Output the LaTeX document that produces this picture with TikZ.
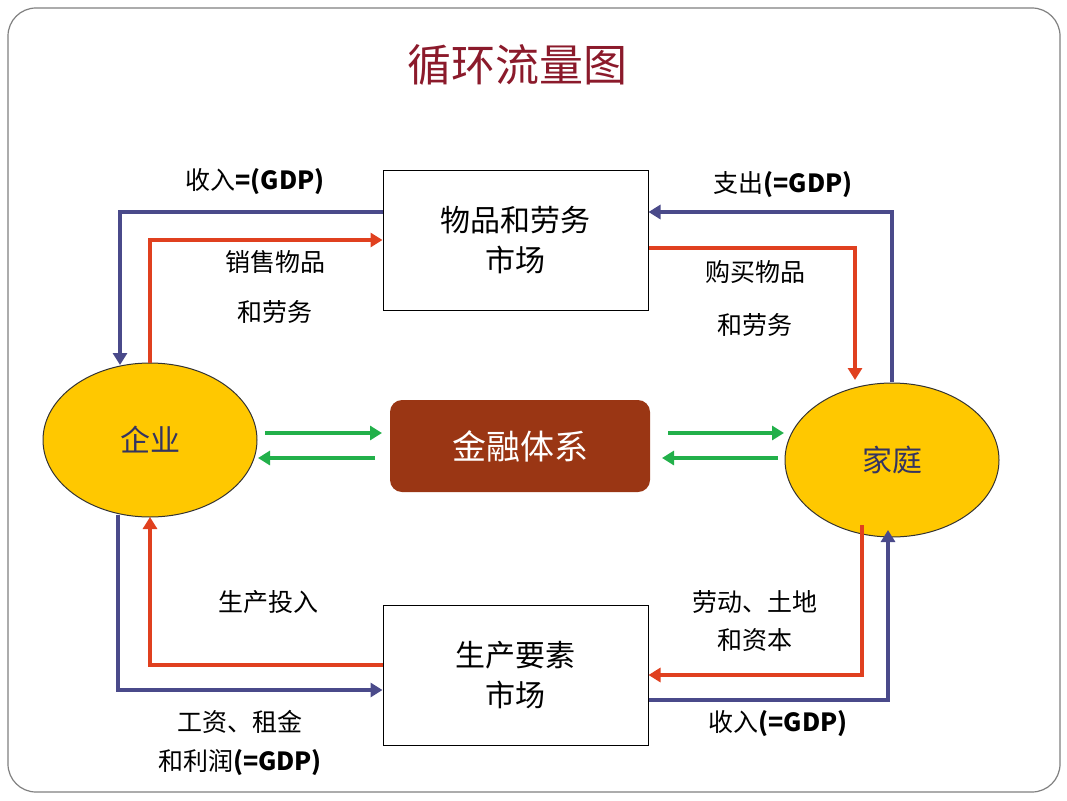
\documentclass[tikz,border=0pt]{standalone}
\usepackage{fontspec}
\setmainfont{Noto Sans CJK SC}
\usetikzlibrary{shapes.geometric,arrows.meta}
\definecolor{bl}{HTML}{4A4A8A}
\definecolor{rd}{HTML}{E0401F}
\definecolor{gr}{HTML}{22B04A}
\definecolor{br}{HTML}{9A3614}
\definecolor{tt}{HTML}{8B1A2B}
\definecolor{yl}{HTML}{FFC800}
\begin{document}
\begin{tikzpicture}[x=1pt,y=-1pt,
 box/.style={draw=black,line width=1pt,minimum width=265pt,minimum height=140pt,align=center,font=\fontsize{30}{40}\selectfont},
 ell/.style={ellipse,draw=black!80,fill=yl,line width=1pt,minimum width=214pt,minimum height=154pt,font=\fontsize{30}{36}\selectfont,text=bl!70!black},
 lab/.style={font=\fontsize{25}{30}\selectfont,align=center},
 bA/.style={bl,line width=4pt,-{Triangle[length=12pt,width=14pt]}},
 rA/.style={rd,line width=4pt,-{Triangle[length=12pt,width=14pt]}},
 gA/.style={gr,line width=4pt,-{Triangle[length=12pt,width=14pt]}}]
\useasboundingbox (0,0) rectangle (1067,800);
\draw[gray,line width=1.2pt,rounded corners=28pt] (8,8) rectangle (1060,792);
\node[text=tt,font=\fontsize{44}{50}\selectfont] (title) at (517,65) {循环流量图};
\node[box] (gm) at (515.5,240) {物品和劳务\\市场};
\node[box] (fm) at (515.5,675) {生产要素\\市场};
\node[fill=br,rounded corners=12pt,minimum width=260pt,minimum height=92pt,text=white,font=\fontsize{34}{40}\selectfont] (fs) at (520,446) {金融体系};
\node[ell] (firm) at (150,440) {企业};
\node[ell] (home) at (892,460) {家庭};
% blue
\coordinate (b1) at (120,212); \coordinate (b2) at (892,212);
\coordinate (b3) at (118,690); \coordinate (b4) at (888,700);
\draw[bA] (gm.west |- b1) -- (b1) -- (120,365);
\draw[bA] (892,382) -- (b2) -- (gm.east |- b2);
\draw[bA] (118,515) -- (b3) -- (fm.west |- b3);
\draw[bA] (fm.east |- b4) -- (b4) -- (888,530);
% red
\coordinate (r1) at (150,240); \coordinate (r2) at (855,248);
\coordinate (r3) at (150,665); \coordinate (r4) at (862,675);
\draw[rA] (150,363) -- (r1) -- (gm.west |- r1);
\draw[rA] (gm.east |- r2) -- (r2) -- (855,380);
\draw[rA] (fm.west |- r3) -- (r3) -- (150,517);
\draw[rA] (862,525) -- (r4) -- (fm.east |- r4);
% green
\draw[gA] (265,433) -- (382,433);
\draw[gA] (375,458) -- (258,458);
\draw[gA] (668,433) -- (784,433);
\draw[gA] (778,458) -- (662,458);
% labels
\node[lab] (l1) at (255,182) {收入\textbf{=(GDP)}};
\node[lab] (l2) at (275,262) {销售物品};
\node[lab] (l3) at (275,312) {和劳务};
\node[lab] (l4) at (783,185) {支出\textbf{(=GDP)}};
\node[lab] (l5) at (755,272) {购买物品};
\node[lab] (l6) at (755,325) {和劳务};
\node[lab] (l7) at (268,602) {生产投入};
\node[lab] (l8) at (755,602) {劳动、土地};
\node[lab] (l9) at (755,640) {和资本};
\node[lab] (l10) at (240,722) {工资、租金};
\node[lab] (l11) at (240,763) {和利润\textbf{(=GDP)}};
\node[lab] (l12) at (778,724) {收入\textbf{(=GDP)}};
\end{tikzpicture}
\end{document}
